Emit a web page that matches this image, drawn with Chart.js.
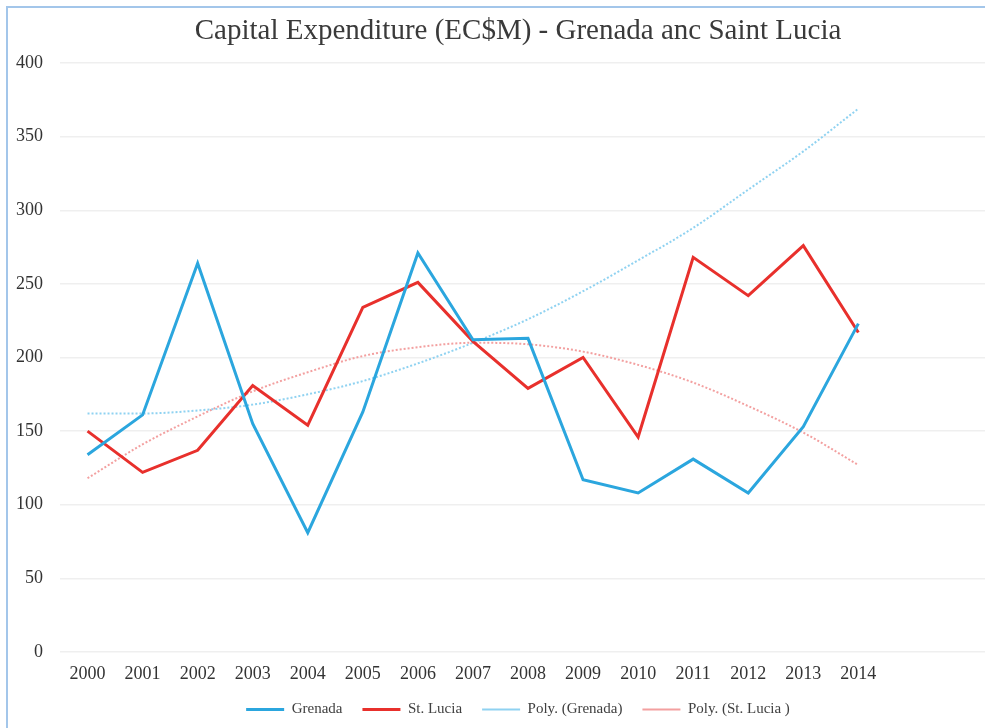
<!DOCTYPE html>
<html>
<head>
<meta charset="utf-8">
<script src="https://cdn.jsdelivr.net/npm/chart.js@4/dist/chart.umd.min.js"></script>
<style>
  html, body { margin: 0; padding: 0; background: #fff; overflow: hidden; }
  #wrap { position: relative; width: 985px; height: 728px; }
  #frame {
    position: absolute; left: 6px; top: 6px; right: 0; bottom: 0;
    border-left: 2px solid #a3c6ea; border-top: 2px solid #a3c6ea;
    pointer-events: none;
  }
</style>
</head>
<body>
<div id="wrap">
  <canvas id="capexChart" width="985" height="728"></canvas>
  <div id="frame"></div>
</div>
<script>
const years = [2000, 2001, 2002, 2003, 2004, 2005, 2006, 2007, 2008, 2009, 2010, 2011, 2012, 2013, 2014];
const grenada = [134, 161, 264, 155, 81, 163, 271, 212, 213, 117, 108, 131, 108, 153, 223];
const stLucia = [150, 122, 137, 181, 154, 234, 251, 211, 179, 200, 146, 268, 242, 276, 217];
const polyGrenada = [162, 162, 164, 168, 175, 184, 196, 210, 226, 245, 266, 288, 314, 340, 369];
const polyStLucia = [118, 141, 160, 177, 190, 201, 207, 210, 209, 204, 195, 183, 167, 149, 127];
const yTicks = [0, 50, 100, 150, 200, 250, 300, 350, 400];

const toPoints = arr => arr.map((v, i) => ({ x: years[i], y: v }));
const serif = '"Liberation Serif", "DejaVu Serif", serif';

const ctx = document.getElementById('capexChart').getContext('2d');
new Chart(ctx, {
  type: 'line',
  data: {
    datasets: [
      { label: 'Grenada', data: toPoints(grenada), borderColor: '#2ba6de', borderWidth: 3, tension: 0, pointRadius: 0 },
      { label: 'St. Lucia', data: toPoints(stLucia), borderColor: '#e8302c', borderWidth: 3, tension: 0, pointRadius: 0 },
      { label: 'Poly. (Grenada)', data: toPoints(polyGrenada), borderColor: '#8fd2f1', borderWidth: 2, borderDash: [2, 2], cubicInterpolationMode: 'monotone', pointRadius: 0 },
      { label: 'Poly. (St. Lucia )', data: toPoints(polyStLucia), borderColor: '#f3a0a0', borderWidth: 2, borderDash: [2, 2], cubicInterpolationMode: 'monotone', pointRadius: 0 }
    ]
  },
  options: {
    responsive: false,
    animation: false,
    layout: { padding: { left: 16, right: -35, top: 0, bottom: 1 } },
    plugins: {
      title: {
        display: true,
        text: 'Capital Expenditure (EC$M) - Grenada anc Saint Lucia',
        color: '#3a3a3a',
        font: { family: serif, size: 29, weight: 'normal', lineHeight: 1 },
        padding: { top: 17, bottom: 17 }
      },
      legend: {
        position: 'bottom',
        labels: {
          usePointStyle: true,
          pointStyle: 'line',
          pointStyleWidth: 38,
          padding: 20,
          color: '#404040',
          font: { family: serif, size: 15 }
        }
      },
      tooltip: { enabled: false }
    },
    scales: {
      x: {
        type: 'linear',
        min: 1999.5,
        max: 2016.3,
        grid: { display: false, drawTicks: false },
        border: { display: false },
        afterFit: scale => { scale.height = 30; },
        afterBuildTicks: scale => { scale.ticks = years.map(v => ({ value: v })); },
        ticks: {
          autoSkip: false,
          maxRotation: 0,
          padding: 13,
          color: '#333',
          font: { family: serif, size: 18, lineHeight: 1 },
          callback: v => String(v)
        }
      },
      y: {
        min: 0,
        max: 400,
        grid: { color: '#efefef', lineWidth: 1.5, drawTicks: false },
        border: { display: false },
        afterFit: scale => { scale.width = 44; },
        afterBuildTicks: scale => { scale.ticks = yTicks.map(v => ({ value: v })); },
        ticks: {
          padding: 17,
          color: '#333',
          font: { family: serif, size: 18 }
        }
      }
    }
  }
});
</script>
</body>
</html>
